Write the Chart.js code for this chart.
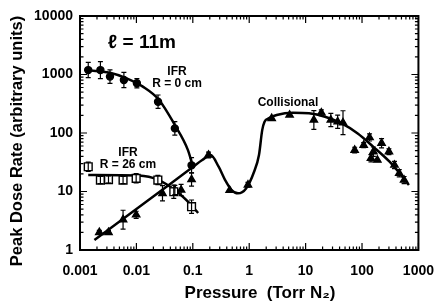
<!DOCTYPE html>
<html>
<head>
<meta charset="utf-8">
<script src="https://cdn.jsdelivr.net/npm/chart.js@4.4.1/dist/chart.umd.min.js"></script>
<style>
  html, body { margin: 0; padding: 0; background: #fff; }
</style>
</head>
<body>
<canvas id="chart" width="447" height="303"></canvas>
<script>
// tick labels
const xTickLabels = ['0.001', '0.01', '0.1', '1', '10', '100', '1000'];
const yTickLabels = ['1', '10', '100', '1000', '10000'];
const xTitle = 'Pressure  (Torr N\u2082)';
const yTitle = 'Peak Dose Rate (arbitrary units)';

// IFR, R = 0 cm (filled circles)
const r0P = [0.0014, 0.0023, 0.0034, 0.006, 0.0102, 0.0242, 0.048, 0.095];
const r0V = [1190, 1190, 920, 805, 707, 343, 120, 28];
const r0Err = [1.35, 1.4, 1.3, 1.35, 1.2, 1.3, 1.3, 1.35];
const r0CurveP = [0.0012, 0.0034, 0.0067, 0.013, 0.025, 0.048, 0.082, 0.1];
const r0CurveV = [1200, 1070, 860, 620, 370, 137, 51, 27];

// IFR, R = 26 cm (open squares)
const r26P = [0.0014, 0.0023, 0.0032, 0.0058, 0.0099, 0.024, 0.046, 0.095];
const r26V = [26.5, 15.7, 16, 15.7, 16.8, 15.7, 9.9, 5.5];
const r26Err = [1.2, 1.15, 1.15, 1.15, 1.2, 1.2, 1.3, 1.3];
const r26CurveP = [0.0014, 0.011, 0.0248, 0.048, 0.0935, 0.124];
const r26CurveV = [19.1, 18.7, 15.7, 10.6, 5.9, 4.3];

// Collisional (filled triangles)
const collP = [0.0022, 0.0032, 0.0058, 0.0099, 0.029, 0.048, 0.062, 0.095, 0.19, 0.45, 0.95,
  2.5, 5.2, 14, 19, 28, 37, 46, 74, 107, 136, 144, 159, 187, 222, 300, 376, 457, 557];
const collV = [2.0, 2.0, 3.3, 4.0, 9.3, 10.6, 10.6, 16, 42, 10.5, 13,
  178, 203, 167, 222, 167, 156, 150, 51, 62, 84, 37, 48, 34.5, 67, 48, 28.4, 20.5, 15.7];
const collErr = [1.08, 1.08, 1.45, 1.15, 1.35, 1.2, 1.25, 1.3, 1.12, 1, 1.1,
  1, 1, 1.45, 1.12, 1.3, 1.3, 1.6, 1.12, 1.1, 1.15, 1.15, 1.2, 1, 1.2, 1.12, 1.15, 1.15, 1.15];
const collCurveP = [0.0018, 0.01, 0.1, 0.147, 0.207, 0.287, 0.374, 0.487, 0.633, 0.88, 1.22, 1.49,
  1.7, 1.87, 2.21, 3.07, 5.94, 11.5, 22.1, 42.8, 82.7, 159, 308, 521, 679];
const collCurveV = [1.48, 5.0, 26.2, 34.5, 42, 26.5, 15.7, 10.6, 9.3, 11.3, 21.8, 42,
  112, 156, 178, 203, 222, 217, 190, 147, 99, 58, 32.3, 17.9, 12.9];

const FONT = '"Liberation Sans", Arial, Helvetica, sans-serif';
Chart.defaults.font.family = FONT;
Chart.defaults.color = '#000';

const toPts = (xs, ys) => xs.map((x, i) => ({ x, y: ys[i] }));

function curve(xs, ys) {
  return {
    type: 'line', data: toPts(xs, ys), order: 2,
    borderColor: '#000', borderWidth: 2.5, pointRadius: 0,
    cubicInterpolationMode: 'monotone', fill: false
  };
}

function marker(xs, ys, style, fill, r, err) {
  return {
    data: toPts(xs, ys), order: 1, err,
    pointStyle: style, pointRadius: r, pointBackgroundColor: fill,
    pointBorderColor: '#000', pointBorderWidth: 1.4
  };
}

function decadeLabel(labels, offset) {
  return v => {
    const k = Math.log10(v) + offset;
    const i = Math.round(k);
    return Math.abs(k - i) < 1e-6 ? labels[i] : '';
  };
}

// error bars, from each marker dataset's err factors
const errorBars = {
  id: 'errorBars',
  afterDatasetsDraw(chart) {
    const { ctx, scales: { x, y } } = chart;
    ctx.save();
    ctx.strokeStyle = '#000';
    ctx.lineWidth = 1.2;
    chart.data.datasets.forEach(ds => {
      if (!ds.err) return;
      ds.data.forEach((p, i) => {
        const e = ds.err[i];
        if (e <= 1.01) return;
        const px = x.getPixelForValue(p.x);
        const top = y.getPixelForValue(p.y * e);
        const bot = y.getPixelForValue(p.y / e);
        ctx.beginPath();
        ctx.moveTo(px, top); ctx.lineTo(px, bot);
        ctx.moveTo(px - 2.5, top); ctx.lineTo(px + 2.5, top);
        ctx.moveTo(px - 2.5, bot); ctx.lineTo(px + 2.5, bot);
        ctx.stroke();
      });
    });
    ctx.restore();
  }
};

// box with inward ticks on all four sides, axis titles and labels in the plot
const frame = {
  id: 'frame',
  afterDraw(chart) {
    const { ctx, chartArea: a, scales: { x, y } } = chart;
    ctx.save();
    ctx.strokeStyle = '#000';
    ctx.lineWidth = 2;
    ctx.strokeRect(a.left, a.top, a.right - a.left, a.bottom - a.top);

    ctx.lineWidth = 1.2;
    ctx.beginPath();
    const xDec = xTickLabels.map(Number);
    const yDec = yTickLabels.map(Number);
    xDec.forEach((d, k) => {
      for (let m = 1; m < 10; m++) {
        if (m > 1 && k === xDec.length - 1) break;
        const px = x.getPixelForValue(d * m);
        const len = m === 1 ? 7 : 3.5;
        ctx.moveTo(px, a.bottom); ctx.lineTo(px, a.bottom - len);
        ctx.moveTo(px, a.top); ctx.lineTo(px, a.top + len);
      }
    });
    yDec.forEach((d, k) => {
      for (let m = 1; m < 10; m++) {
        if (m > 1 && k === yDec.length - 1) break;
        const py = y.getPixelForValue(d * m);
        const len = m === 1 ? 7 : 3.5;
        ctx.moveTo(a.left, py); ctx.lineTo(a.left + len, py);
        ctx.moveTo(a.right, py); ctx.lineTo(a.right - len, py);
      }
    });
    ctx.stroke();

    ctx.fillStyle = '#000';
    ctx.textBaseline = 'middle';
    ctx.textAlign = 'center';

    // axis titles
    ctx.font = 'bold 17px ' + FONT;
    ctx.fillText(xTitle, 260, 293);
    ctx.save();
    ctx.translate(17, 141);
    ctx.rotate(-Math.PI / 2);
    ctx.font = 'bold 16.5px ' + FONT;
    ctx.fillText(yTitle, 0, 0);
    ctx.restore();

    ctx.font = 'bold 12px ' + FONT;
    ctx.fillText('IFR', 177, 72);
    ctx.fillText('R = 0 cm', 177, 84);
    ctx.fillText('IFR', 128, 153);
    ctx.fillText('R = 26 cm', 128, 165);
    ctx.fillText('Collisional', 288, 103);

    ctx.textAlign = 'left';
    ctx.font = 'bold 19px ' + FONT;
    ctx.fillText('\u2113 = 11m', 108, 43);
    ctx.restore();
  }
};

new Chart(document.getElementById('chart'), {
  type: 'scatter',
  data: {
    datasets: [
      curve(r0CurveP, r0CurveV),
      curve(r26CurveP, r26CurveV),
      curve(collCurveP, collCurveV),
      marker(r0P, r0V, 'circle', '#000', 3.5, r0Err),
      marker(r26P, r26V, 'rect', '#fff', 5.5, r26Err),
      marker(collP, collV, 'triangle', '#000', 4.2, collErr)
    ]
  },
  options: {
    responsive: false,
    animation: false,
    events: [],
    layout: { padding: { top: 16, right: 18, left: 0, bottom: 0 } },
    plugins: { legend: { display: false }, tooltip: { enabled: false } },
    scales: {
      x: {
        type: 'logarithmic', min: 0.001, max: 1000,
        grid: { display: false, drawTicks: false },
        border: { display: false },
        ticks: {
          autoSkip: false, maxRotation: 0, padding: 13,
          font: { size: 14, weight: 'bold' },
          callback: decadeLabel(xTickLabels, 3)
        },
        afterFit(s) { s.height = 53; }
      },
      y: {
        type: 'logarithmic', min: 1, max: 10000,
        grid: { display: false, drawTicks: false },
        border: { display: false },
        ticks: {
          autoSkip: false, padding: 7,
          font: { size: 14, weight: 'bold' },
          callback: decadeLabel(yTickLabels, 0)
        },
        afterFit(s) { s.width = 80; }
      }
    }
  },
  plugins: [errorBars, frame]
});
</script>
</body>
</html>
